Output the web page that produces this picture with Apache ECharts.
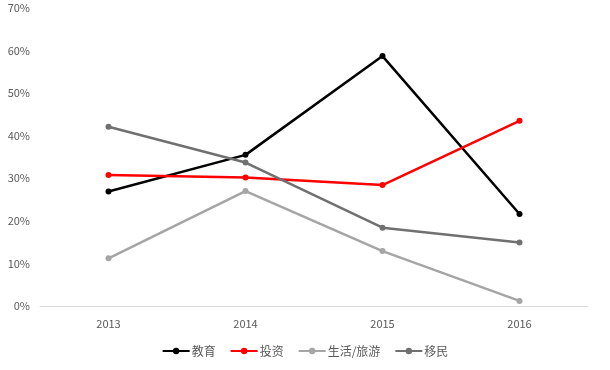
<!DOCTYPE html>
<html><head><meta charset="utf-8">
<script src="https://cdn.jsdelivr.net/npm/echarts@6/dist/echarts.min.js"></script>
<style>html,body{margin:0;padding:0;background:#fff}#c{width:610px;height:370px}</style>
</head><body><div id="c"></div>
<script>
const years = ['2013','2014','2015','2016'];
const education = [26.9, 35.5, 58.7, 21.6];
const investment = [30.8, 30.2, 28.4, 43.5];
const living = [11.2, 27.0, 12.9, 1.2];
const immigration = [42.1, 33.7, 18.4, 14.9];
const seriesNames = ['教育','投资','生活/旅游','移民'];
const colors = ['#000000','#ff0000','#a5a5a5','#707070'];
const dataSets = [education, investment, living, immigration];

const chart = echarts.init(document.getElementById('c'));
chart.setOption({
  animation: false,
  textStyle: {fontFamily: '"Noto Sans CJK SC", "Liberation Sans", sans-serif'},
  grid: {left: 40, right: 22, top: 8, bottom: 64},
  legend: {
    bottom: 8, left: 'center', itemWidth: 27, itemHeight: 8, itemGap: 14,
    textStyle: {color: '#595959', fontSize: 12, padding: [0, 0, 0, -3]},
    data: seriesNames
  },
  xAxis: {
    type: 'category', data: years, boundaryGap: true,
    axisLine: {lineStyle: {color: '#d9d9d9'}},
    axisTick: {show: false},
    axisLabel: {color: '#595959', fontSize: 11, margin: 12}
  },
  yAxis: {
    type: 'value', min: 0, max: 70, interval: 10,
    axisLine: {show: false}, axisTick: {show: false},
    splitLine: {show: false},
    axisLabel: {color: '#595959', fontSize: 11, margin: 10, formatter: v => v + '%'}
  },
  series: dataSets.map((d, i) => ({
    name: seriesNames[i], type: 'line', data: d,
    symbol: 'circle', symbolSize: 6,
    lineStyle: {width: 2.5, color: colors[i]},
    itemStyle: {color: colors[i]}
  }))
});
</script></body></html>
